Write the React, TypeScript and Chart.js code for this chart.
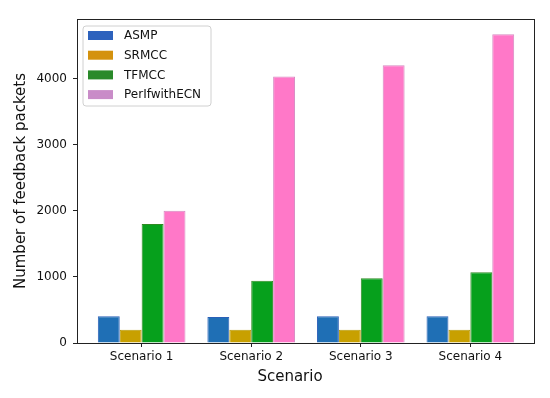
import React, { useEffect, useRef } from "react";
import { Chart, registerables } from "chart.js";

Chart.register(...registerables);

const categories = ["Scenario 1", "Scenario 2", "Scenario 3", "Scenario 4"];
const seriesNames = ["ASMP", "SRMCC", "TFMCC", "PerIfwithECN"];
const asmp = [405, 392, 405, 405];
const srmcc = [200, 200, 200, 200];
const tfmcc = [1800, 940, 980, 1070];
const perIf = [2000, 4030, 4200, 4670];
const yTicks = [0, 1000, 2000, 3000, 4000];

const barColors = ["#1f6fb5", "#c8a000", "#06a01c", "#ff78c8"];
const barBorders = ["#2a60b8", "#b89a08", "#2f8a22", "#d68ac2"];
const legendColors = ["#2d62bd", "#d4920e", "#2a8a2a", "#c98cc8"];

const FONT = "'DejaVu Sans', sans-serif";

const framePlugin = {
  id: "frameAndLegend",
  afterDraw(chart: any) {
    const ctx = chart.ctx;
    const a = chart.chartArea;
    ctx.save();
    // frame
    ctx.strokeStyle = "#222";
    ctx.lineWidth = 1;
    ctx.strokeRect(Math.round(a.left) + 0.5, Math.round(a.top) + 0.5, Math.round(a.right - a.left) - 1, Math.round(a.bottom - a.top));
    // legend
    const lx = 83, ly = 26, lw = 128, lh = 80, r = 3;
    ctx.fillStyle = "rgba(255,255,255,0.85)";
    ctx.strokeStyle = "#d0d0d0";
    ctx.beginPath();
    ctx.moveTo(lx + r, ly);
    ctx.lineTo(lx + lw - r, ly);
    ctx.quadraticCurveTo(lx + lw, ly, lx + lw, ly + r);
    ctx.lineTo(lx + lw, ly + lh - r);
    ctx.quadraticCurveTo(lx + lw, ly + lh, lx + lw - r, ly + lh);
    ctx.lineTo(lx + r, ly + lh);
    ctx.quadraticCurveTo(lx, ly + lh, lx, ly + lh - r);
    ctx.lineTo(lx, ly + r);
    ctx.quadraticCurveTo(lx, ly, lx + r, ly);
    ctx.closePath();
    ctx.fill();
    ctx.stroke();
    ctx.font = `12px ${FONT}`;
    ctx.textBaseline = "middle";
    ctx.textAlign = "left";
    seriesNames.forEach((name, i) => {
      const cy = 35.5 + i * 19.7;
      ctx.fillStyle = legendColors[i];
      ctx.fillRect(88, cy - 4.5, 25, 9);
      ctx.fillStyle = "#111";
      ctx.fillText(name, 124, cy + 0.5);
    });
    // axis titles
    ctx.fillStyle = "#111";
    ctx.font = `15px ${FONT}`;
    ctx.textAlign = "center";
    ctx.textBaseline = "middle";
    ctx.fillText("Scenario", 290, 377);
    ctx.translate(21, 181);
    ctx.rotate(-Math.PI / 2);
    ctx.fillText("Number of feedback packets", 0, 0);
    ctx.restore();
  },
};

export default function App() {
  const ref = useRef<HTMLCanvasElement>(null);
  useEffect(() => {
    if (!ref.current) return;
    const series = [asmp, srmcc, tfmcc, perIf];
    const chart = new Chart(ref.current, {
      type: "bar",
      data: {
        datasets: series.map((vals, i) => ({
          label: seriesNames[i],
          data: vals.map((v, j) => ({ x: j, y: v })),
          backgroundColor: barColors[i],
          borderColor: barBorders[i],
          borderWidth: 1,
          categoryPercentage: 0.8,
          barPercentage: 1.0,
        })),
      },
      options: {
        animation: false,
        responsive: false,
        layout: { padding: { top: 19, right: 15, left: 0, bottom: 0 } },
        plugins: { legend: { display: false }, tooltip: { enabled: false } },
        scales: {
          x: {
            type: "linear",
            offset: false,
            min: -0.59,
            max: 3.59,
            afterBuildTicks: (s: any) => {
              s.ticks = categories.map((_, i) => ({ value: i }));
            },
            afterFit: (s: any) => {
              s.height = 55;
            },
            grid: { display: true, offset: false, drawOnChartArea: false, drawTicks: true, tickLength: 4, color: "#222" },
            border: { display: false },
            ticks: {
              padding: 3,
              color: "#111",
              font: { family: FONT, size: 12 },
              maxRotation: 0,
              autoSkip: false,
              callback: (v: any) => categories[v as number] ?? "",
            },
          },
          y: {
            min: 0,
            max: 4900,
            afterBuildTicks: (s: any) => {
              s.ticks = yTicks.map((v) => ({ value: v }));
            },
            afterFit: (s: any) => {
              s.width = 77;
            },
            grid: { display: true, drawOnChartArea: false, drawTicks: true, tickLength: 4, color: "#222" },
            border: { display: false },
            ticks: {
              padding: 6,
              color: "#111",
              font: { family: FONT, size: 12 },
              callback: (v: any) => String(v),
            },
          },
        },
      },
      plugins: [framePlugin],
    } as any);
    return () => chart.destroy();
  }, []);
  return (
    <div style={{ position: "absolute", left: 0, top: 0, width: 550, height: 398, background: "#fff" }}>
      <canvas ref={ref} width={550} height={398} />
    </div>
  );
}
